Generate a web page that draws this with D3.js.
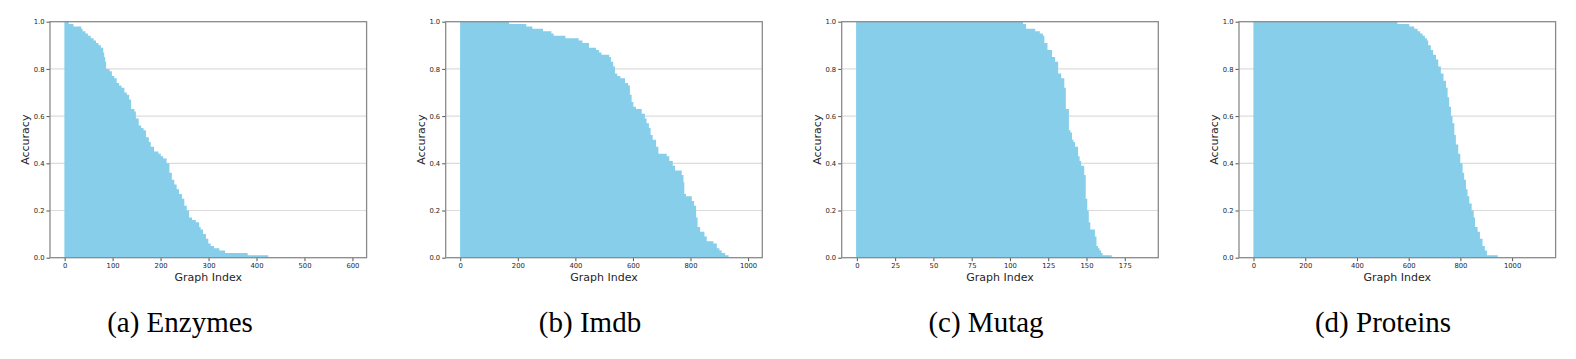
<!DOCTYPE html>
<html><head><meta charset="utf-8">
<script src="https://cdn.jsdelivr.net/npm/d3@7"></script>
<style>body{margin:0;background:#fff}svg{display:block}</style>
</head><body>
<svg id="c" width="1576" height="359"></svg>
<script>
// Run-length data: each run covers graph indices [previous end, end) with one accuracy value
const enzymesCount = 600;
const enzymesEnd = [9,19,35,38,44,49,55,61,66,71,76,81,83,85,87,94,99,104,109,114,119,125,130,135,139,146,149,155,160,165,170,176,180,187,196,201,206,213,219,224,229,234,239,245,250,255,260,266,274,281,284,289,295,300,305,312,323,335,382,425,600];
const enzymesAcc = [1.0,0.99,0.98,0.97,0.96,0.95,0.94,0.93,0.92,0.91,0.90,0.89,0.87,0.85,0.83,0.80,0.79,0.77,0.76,0.74,0.73,0.72,0.70,0.69,0.67,0.63,0.62,0.59,0.56,0.55,0.54,0.51,0.49,0.47,0.45,0.44,0.43,0.42,0.40,0.36,0.33,0.31,0.29,0.27,0.25,0.22,0.20,0.17,0.16,0.15,0.13,0.12,0.10,0.08,0.06,0.05,0.04,0.03,0.02,0.01,0];
const enzymesTicks = [0,100,200,300,400,500,600];

const imdbCount = 1000;
const imdbEnd = [170,230,251,288,317,325,366,412,425,448,472,483,491,518,524,532,538,546,557,573,584,590,596,602,611,631,642,648,656,662,669,681,689,718,727,739,747,770,776,779,785,805,813,820,825,834,849,857,880,892,901,909,921,933,1000];
const imdbAcc = [1.0,0.99,0.98,0.97,0.96,0.95,0.94,0.93,0.92,0.91,0.89,0.88,0.87,0.86,0.85,0.83,0.81,0.78,0.77,0.76,0.74,0.73,0.69,0.66,0.64,0.63,0.61,0.59,0.57,0.55,0.52,0.50,0.47,0.44,0.43,0.41,0.39,0.37,0.35,0.32,0.27,0.26,0.24,0.22,0.17,0.13,0.11,0.09,0.07,0.06,0.04,0.03,0.02,0.01,0];
const imdbTicks = [0,200,400,600,800,1000];

const mutagCount = 188;
const mutagEnd = [109,111,117,120,122,123,125,128,130,132,134,136,137,139,140,141,142,143,145,146,147,149,150,151,152,153,156,157,158,159,160,161,167,188];
const mutagAcc = [1.0,0.99,0.97,0.96,0.95,0.94,0.91,0.88,0.85,0.83,0.78,0.76,0.72,0.63,0.54,0.53,0.50,0.49,0.47,0.43,0.41,0.39,0.35,0.25,0.20,0.15,0.12,0.09,0.05,0.04,0.03,0.02,0.01,0];
const mutagTicks = [0,25,50,75,100,125,150,175];

const proteinsCount = 1113;
const proteinsEnd = [557,603,622,635,645,654,663,671,676,686,695,706,715,725,735,745,751,757,764,770,777,783,792,800,809,815,822,828,835,844,852,857,867,876,886,895,903,945,1113];
const proteinsAcc = [1.0,0.99,0.98,0.97,0.96,0.95,0.94,0.93,0.92,0.90,0.88,0.86,0.84,0.81,0.78,0.75,0.72,0.68,0.64,0.60,0.57,0.52,0.48,0.44,0.40,0.36,0.33,0.29,0.26,0.23,0.20,0.17,0.13,0.11,0.08,0.05,0.03,0.01,0];
const proteinsTicks = [0,200,400,600,800,1000];

const yTicks = [0,0.2,0.4,0.6,0.8,1.0];
const captions = ["(a) Enzymes","(b) Imdb","(c) Mutag","(d) Proteins"];

const panels = [
  {n: enzymesCount, end: enzymesEnd, acc: enzymesAcc, ticks: enzymesTicks},
  {n: imdbCount, end: imdbEnd, acc: imdbAcc, ticks: imdbTicks},
  {n: mutagCount, end: mutagEnd, acc: mutagAcc, ticks: mutagTicks},
  {n: proteinsCount, end: proteinsEnd, acc: proteinsAcc, ticks: proteinsTicks}
];

const svg = d3.select("#c");
const lefts = [50, 445.7, 841.7, 1239];
const plotW = 316.6, plotTop = 21.7, plotBottom = 257.7;
const capX = [180, 590, 986, 1383];
const spineColor = "#8a8a8a";
const textColor = "#262626";

panels.forEach((p, k) => {
  const L = lefts[k];
  const pad = 0.05 * p.n;
  const x = d3.scaleLinear().domain([-0.5 - pad, p.n - 0.5 + pad]).range([L, L + plotW]);
  const y = d3.scaleLinear().domain([0, 1]).range([plotBottom, plotTop]);
  const g = svg.append("g");

  // grid
  g.selectAll("line.grid").data(yTicks.filter(t => t > 0 && t < 1)).join("line")
    .attr("class", "grid")
    .attr("x1", L).attr("x2", L + plotW)
    .attr("y1", d => y(d)).attr("y2", d => y(d))
    .attr("stroke", "#dcdcdc").attr("stroke-width", 1.2);

  // bars (width-1 bars per graph index, merged per run into one seamless shape)
  const pts = [];
  p.end.forEach((e, i) => {
    const s = i === 0 ? 0 : p.end[i - 1];
    if (p.acc[i] > 0) {
      pts.push({i: s - 0.5, v: p.acc[i]});
      pts.push({i: e - 0.5, v: p.acc[i]});
    } else {
      pts.push({i: s - 0.5, v: 0});
    }
  });
  const area = d3.area().x(d => x(d.i)).y0(y(0)).y1(d => y(d.v)).curve(d3.curveLinear);
  g.append("path").datum(pts).attr("d", area).attr("fill", "#87ceeb");

  // axes
  const xa = g.append("g").attr("transform", `translate(0,${plotBottom})`)
    .call(d3.axisBottom(x).tickValues(p.ticks).tickSize(3.5).tickPadding(2).tickFormat(d3.format("d")));
  const ya = g.append("g").attr("transform", `translate(${L},0)`)
    .call(d3.axisLeft(y).tickValues(yTicks).tickSize(3.5).tickPadding(2).tickFormat(d3.format(".1f")));
  [xa, ya].forEach(a => {
    a.select(".domain").remove();
    a.selectAll("line").attr("stroke", textColor).attr("stroke-width", 0.8);
    a.selectAll("text").attr("fill", textColor).style("font-family", "DejaVu Sans").style("font-size", "6.8px");
  });

  // spines
  g.append("rect").attr("x", L).attr("y", plotTop).attr("width", plotW).attr("height", plotBottom - plotTop)
    .attr("fill", "none").attr("stroke", spineColor).attr("stroke-width", 1.3);

  // labels
  g.append("text").attr("x", L + plotW / 2).attr("y", 281)
    .attr("text-anchor", "middle").attr("fill", textColor)
    .style("font-family", "DejaVu Sans").style("font-size", "11px").text("Graph Index");
  g.append("text").attr("transform", `translate(${L - 21},${(plotTop + plotBottom) / 2}) rotate(-90)`)
    .attr("text-anchor", "middle").attr("fill", textColor)
    .style("font-family", "DejaVu Sans").style("font-size", "11px").text("Accuracy");

  svg.append("text").attr("x", capX[k]).attr("y", 332)
    .attr("text-anchor", "middle").attr("fill", "#000")
    .style("font-family", "Liberation Serif").style("font-size", "29px").text(captions[k]);
});
</script>
</body></html>
